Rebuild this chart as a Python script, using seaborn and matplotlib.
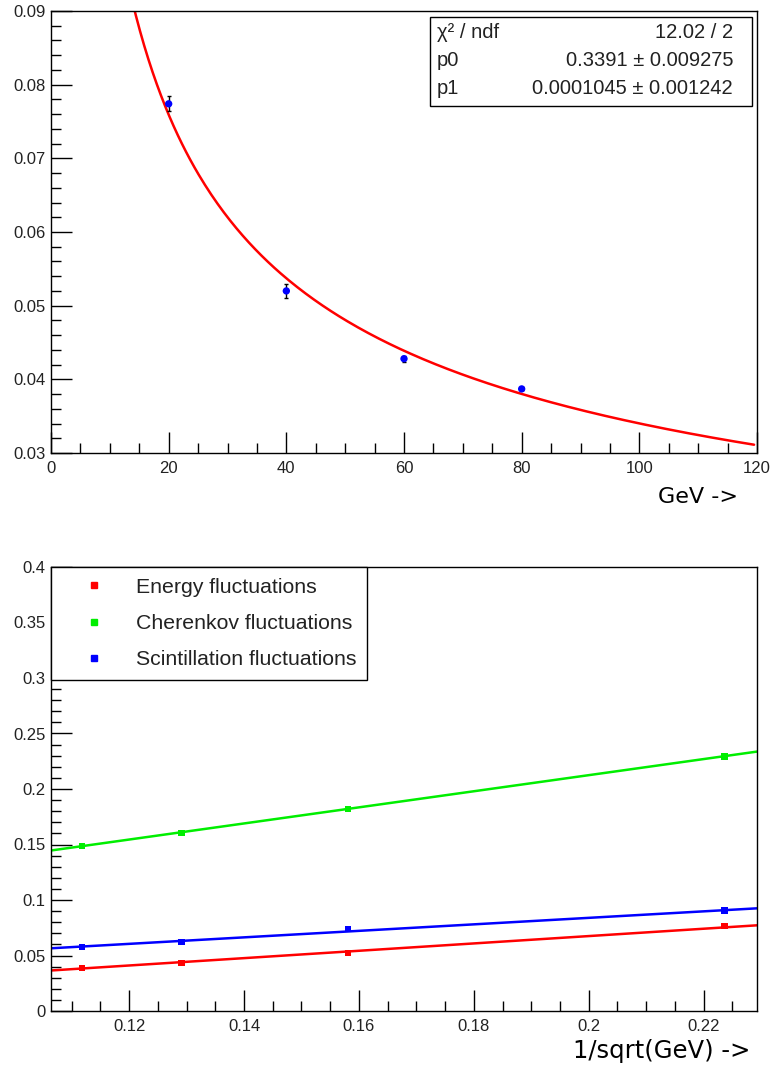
import numpy as np
import pandas as pd
import matplotlib
matplotlib.use('Agg')
import matplotlib.pyplot as plt
from matplotlib.ticker import MultipleLocator, FuncFormatter
from matplotlib.patches import Rectangle
from matplotlib.lines import Line2D
import seaborn as sns

# ---- top panel: resolution vs energy ----
energy = [20, 40, 60, 80]
resolution = [0.0774, 0.0520, 0.0428, 0.0387]
resolution_err = [0.0010, 0.0009, 0.0004, 0.0002]
p0, p0_err = 0.3391, 0.009275
p1, p1_err = 0.0001045, 0.001242
chi2_ndf = '12.02 / 2'

# ---- bottom panel: fluctuations vs 1/sqrt(E) ----
inv_sqrt_e = [0.1118, 0.1291, 0.1581, 0.2236]
energy_fluct = [0.0386, 0.0431, 0.0524, 0.0766]
cherenkov_fluct = [0.1485, 0.1602, 0.1818, 0.2295]
scint_fluct = [0.0575, 0.0620, 0.0737, 0.0907]
# linear fits, read at the ends of the x range
fit_x = [0.1064, 0.2293]
fit_energy = [0.0365, 0.0772]
fit_cherenkov = [0.1446, 0.2337]
fit_scint = [0.0565, 0.0925]
series_labels = ['Energy fluctuations', 'Cherenkov fluctuations', 'Scintillation fluctuations']
series_colors = ['#ff0000', '#00ee00', '#0000ff']

sns.set_style('white')
plt.rcParams['font.family'] = ['Liberation Sans', 'DejaVu Sans']

fig = plt.figure(figsize=(7.74, 10.68), dpi=100)
W, H = 774.0, 1068.0
ax1 = fig.add_axes([51 / W, 1 - 453 / H, 706 / W, 442 / H])
ax2 = fig.add_axes([51 / W, 1 - 1011 / H, 706 / W, 444 / H])

fmt = FuncFormatter(lambda v, pos: '%g' % round(v, 6))


def root_axes(ax):
    for sp in ax.spines.values():
        sp.set_color('black')
        sp.set_linewidth(1.0)
        sp.set_visible(True)
    ax.tick_params(which='both', direction='in', bottom=True, left=True,
                   top=False, right=False, colors='black', width=1.0, labelsize=12)
    ax.tick_params(which='major', length=14.8)
    ax.tick_params(which='minor', length=7.5)
    ax.tick_params(axis='y', pad=4)
    ax.tick_params(axis='x', pad=6)
    ax.xaxis.set_major_formatter(fmt)
    ax.yaxis.set_major_formatter(fmt)
    ax.tick_params(axis='both', labelcolor='#222222')


# top panel
df_top = pd.DataFrame({'E': energy, 'res': resolution})
xs = np.linspace(13, 119.5, 300)
df_fit = pd.DataFrame({'E': xs, 'res': p0 / np.sqrt(xs) + p1})
sns.lineplot(data=df_fit, x='E', y='res', ax=ax1, color='#ff0000', lw=1.8)
ax1.errorbar(energy, resolution, yerr=resolution_err, fmt='none',
             ecolor='black', elinewidth=1.0, capsize=1.5, zorder=3)
sns.scatterplot(data=df_top, x='E', y='res', ax=ax1, color='#0000ff',
                s=28, edgecolor='none', zorder=4)
ax1.set_xlim(0, 120)
ax1.set_ylim(0.03, 0.09)
ax1.xaxis.set_major_locator(MultipleLocator(20))
ax1.xaxis.set_minor_locator(MultipleLocator(5))
ax1.yaxis.set_major_locator(MultipleLocator(0.01))
ax1.yaxis.set_minor_locator(MultipleLocator(0.002))
ax1.set_xlabel('')
ax1.set_ylabel('')
root_axes(ax1)

# stats box
fig.patches.append(Rectangle((430 / W, 1 - 106 / H), 322 / W, 89 / H,
                             transform=fig.transFigure, facecolor='white',
                             edgecolor='black', lw=1.0, zorder=5))
rows = [('\u03c7\u00b2 / ndf', chi2_ndf),
        ('p0', '%g \u00b1 %g' % (p0, p0_err)),
        ('p1', '%g \u00b1 %g' % (p1, p1_err))]
for i, (k, v) in enumerate(rows):
    yy = 1 - (33 + 28 * i) / H
    fig.text(437 / W, yy, k, ha='left', va='center', fontsize=14.5, color='#222222', zorder=6)
    fig.text(733 / W, yy, v, ha='right', va='center', fontsize=14.5, color='#222222', zorder=6)

fig.text(738 / W, 1 - 497 / H, 'GeV ->', ha='right', va='center',
         fontsize=16, family='DejaVu Sans', color='black')

# bottom panel
for fy, pts, c in zip([fit_energy, fit_cherenkov, fit_scint],
                      [energy_fluct, cherenkov_fluct, scint_fluct], series_colors):
    sns.lineplot(x=fit_x, y=fy, ax=ax2, color=c, lw=1.8)
    sns.scatterplot(x=inv_sqrt_e, y=pts, ax=ax2, color=c, marker='s',
                    s=22, edgecolor='none', zorder=4)
ax2.set_xlim(fit_x[0], fit_x[1])
ax2.set_ylim(0, 0.4)
ax2.xaxis.set_major_locator(MultipleLocator(0.02))
ax2.xaxis.set_minor_locator(MultipleLocator(0.005))
ax2.yaxis.set_major_locator(MultipleLocator(0.05))
ax2.yaxis.set_minor_locator(MultipleLocator(0.01))
root_axes(ax2)

handles = [Line2D([], [], ls='none', marker='s', markersize=4, color=c) for c in series_colors]
leg = ax2.legend(handles, series_labels, loc='upper left', bbox_to_anchor=(0, 1),
                 borderaxespad=0, fancybox=False, frameon=True, framealpha=1.0,
                 fontsize=15.3, borderpad=0.5, handlelength=3.0, handletextpad=0.5,
                 labelspacing=0.82)
leg.get_frame().set_edgecolor('black')
leg.get_frame().set_linewidth(1.0)
for t in leg.get_texts():
    t.set_color('#222222')

fig.text(750 / W, 1 - 1051 / H, '1/sqrt(GeV) ->', ha='right', va='center',
         fontsize=17.5, family='DejaVu Sans', color='black')

fig.savefig('out.png', dpi=100)
